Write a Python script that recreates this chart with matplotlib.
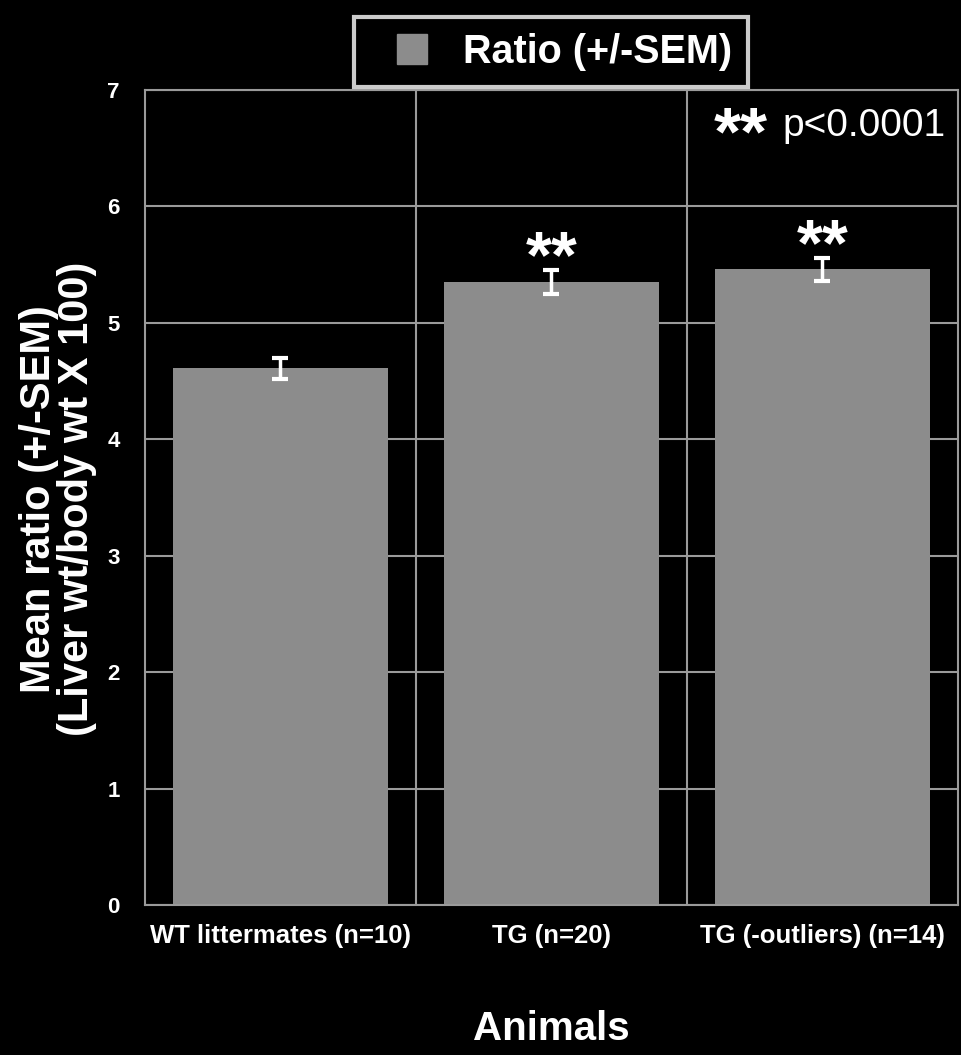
import matplotlib
matplotlib.use("Agg")
import matplotlib.pyplot as plt
from matplotlib.lines import Line2D

plt.rcParams['font.family'] = ['Liberation Sans', 'DejaVu Sans']

categories = ["WT littermates (n=10)", "TG (n=20)", "TG (-outliers) (n=14)"]
means = [4.61, 5.35, 5.46]
sems = [0.09, 0.10, 0.10]
stars = ["", "**", "**"]
yticks = [0, 1, 2, 3, 4, 5, 6, 7]

BAR = "#8c8c8c"
GRID = "#9a9a9a"

fig = plt.figure(figsize=(9.62, 10.55), dpi=100, facecolor="black")
ax = fig.add_axes([0.1507, 0.1422, 0.8451, 0.7725], facecolor="black")

x = list(range(len(categories)))
ax.bar(x, means, width=0.79, color=BAR, zorder=2)
ax.errorbar(x, means, yerr=sems, fmt="none", ecolor="white", elinewidth=2.5,
            capsize=6, capthick=3, zorder=3)
for xi, m, s, st in zip(x, means, sems, stars):
    if st:
        ax.text(xi, m + s - 0.06, st, color="white", fontsize=48, fontweight="bold",
                ha="center", va="baseline", zorder=4)

ax.set_xlim(-0.5, 2.5)
ax.set_ylim(0, 7)
ax.set_yticks(yticks)
ax.set_yticklabels([str(t) for t in yticks], color="white", fontsize=16, fontweight="bold")
ax.set_xticks(x)
ax.set_xticklabels(categories, color="white", fontsize=18.5, fontweight="bold")
ax.tick_params(axis="y", direction="in", length=0, pad=18)
ax.tick_params(axis="x", length=0, pad=14)

ax.yaxis.grid(True, color=GRID, linewidth=1.5, zorder=1)
for d in [0.5, 1.5]:
    ax.axvline(d, color=GRID, linewidth=1.5, zorder=1)
ax.set_axisbelow(True)
for sp in ax.spines.values():
    sp.set_color(GRID)
    sp.set_linewidth(1.5)

fig.text(58 / 962, 1 - 499 / 1055, "Mean ratio (+/-SEM)\n(Liver wt/body wt X 100)",
         rotation=90, ha="center", va="center", multialignment="center",
         color="white", fontsize=30, fontweight="bold", linespacing=0.95)
ax.set_xlabel("Animals", color="white", fontsize=29, fontweight="bold", labelpad=44)

fig.text(741 / 962, 1 - 104 / 1055, "**", color="white",
         fontsize=50, ha="center", va="top", fontweight="bold")
fig.text(946 / 962, 1 - 108 / 1055, "p<0.0001", color="white",
         fontsize=28, ha="right", va="top")

handle = Line2D([], [], linestyle="none", marker="s", markersize=21,
                markerfacecolor=BAR, markeredgecolor=BAR)
leg = fig.legend(handles=[handle], labels=["Ratio (+/-SEM)"],
                 loc="center", bbox_to_anchor=(0.573, 0.951), frameon=True,
                 facecolor="black", edgecolor="white", fontsize=28.5,
                 handlelength=2.1, borderpad=0.4,
                 handletextpad=0.25, borderaxespad=0, fancybox=False)
leg.get_frame().set_linewidth(3)
for t in leg.get_texts():
    t.set_color("white")
    t.set_fontweight("bold")

fig.savefig("out.png", dpi=100, facecolor="black")
